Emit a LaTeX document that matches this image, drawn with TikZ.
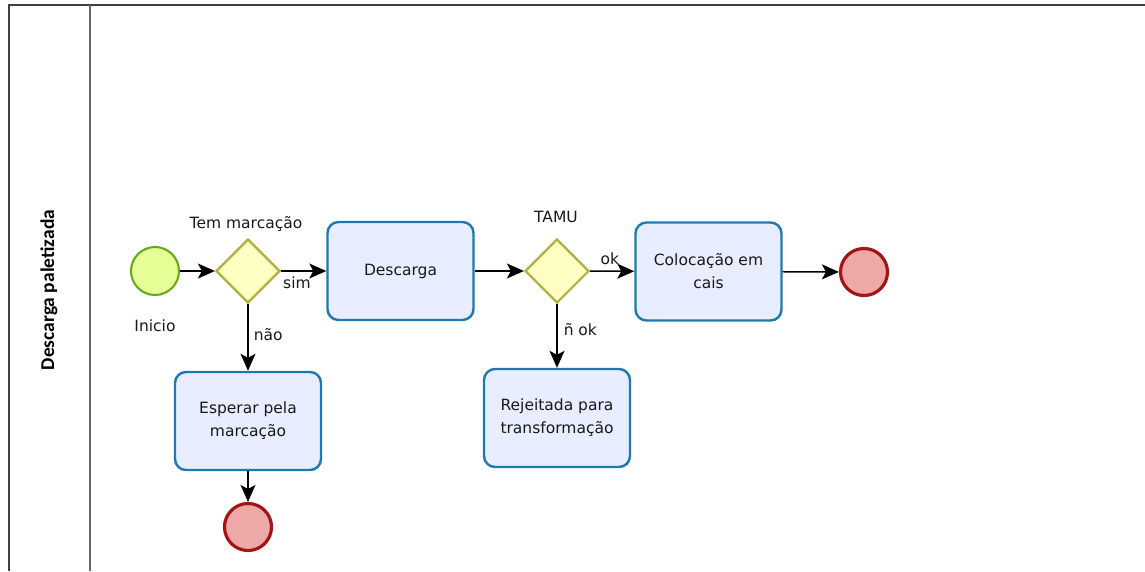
\documentclass[tikz,border=0pt]{standalone}
\usepackage{fontspec}
\setmainfont{DejaVu Sans}
\newfontfamily\lanefont{Carlito}
\usetikzlibrary{arrows.meta,shapes.geometric}
\definecolor{startfill}{HTML}{E6FF97}
\definecolor{startline}{HTML}{62A716}
\definecolor{gwfill}{HTML}{FFFFC4}
\definecolor{gwline}{HTML}{B0B040}
\definecolor{taskfill}{HTML}{E8EEFF}
\definecolor{taskline}{HTML}{1F78B0}
\definecolor{endfill}{HTML}{EEA8A8}
\definecolor{endline}{HTML}{A31515}
\definecolor{frameline}{HTML}{404040}
\begin{document}
\begin{tikzpicture}[x=1pt,y=-1pt,
  every node/.style={font=\fontsize{15.5}{23}\selectfont},
  startev/.style={circle,draw=startline,fill=startfill,line width=2pt,minimum size=48pt,inner sep=0pt},
  endev/.style={circle,draw=endline,fill=endfill,line width=3.2pt,minimum size=47pt,inner sep=0pt},
  gw/.style={diamond,draw=gwline,fill=gwfill,line width=2.2pt,minimum width=64pt,minimum height=64pt,inner sep=0pt},
  task/.style={rectangle,rounded corners=11pt,draw=taskline,fill=taskfill,line width=2.4pt,minimum width=146pt,minimum height=98pt,align=center,text=black!90},
  flow/.style={line width=1.5pt,-{Stealth[length=17pt,width=15pt,inset=4pt]}},
  lbl/.style={text=black!90,inner sep=0pt}]
\useasboundingbox (0,0) rectangle (1145,571);
% frame
\draw[frameline,line width=1.6pt] (9,571) -- (9,5) -- (1145,5);
\draw[frameline!80,line width=1.6pt] (90,5) -- (90,571);
\node[rotate=90,font=\lanefont\bfseries\fontsize{19.5}{22}\selectfont] (lane) at (49,290) {Descarga paletizada};
% nodes
\node[startev] (start) at (155,271) {};
\node[lbl] (startlbl) at (155,326) {Inicio};
\node[gw] (g1) at (248,271) {};
\node[lbl] (g1lbl) at (246,224) {Tem marcação};
\node[task] (desc) at (400.5,271) {Descarga};
\node[task] (esp) at (248,421) {Esperar pela\\marcação};
\node[endev] (end1) at (248,527) {};
\node[gw] (g2) at (557,271) {};
\node[lbl] (g2lbl) at (556,217) {TAMU};
\node[task] (col) at (708.5,271.5) {Colocação em\\cais};
\node[task] (rej) at (557,418) {Rejeitada para\\transformação};
\node[endev] (end2) at (864,272) {};
% connectors
\draw[flow] (start) -- (g1);
\draw[flow] (g1) -- node[lbl,pos=0.35,below=5pt] (sim) {sim} (desc);
\draw[flow] (g1) -- node[lbl,pos=0.45,right=5pt] (nao) {não} (esp);
\draw[flow] (esp) -- (end1);
\draw[flow] (desc) -- (g2);
\draw[flow] (g2) -- node[lbl,pos=0.45,above=6pt] (ok) {ok} (col);
\draw[flow] (g2) -- node[lbl,pos=0.4,right=6pt] (nok) {ñ ok} (rej);
\draw[flow] (col) -- (end2);
\end{tikzpicture}
\end{document}
